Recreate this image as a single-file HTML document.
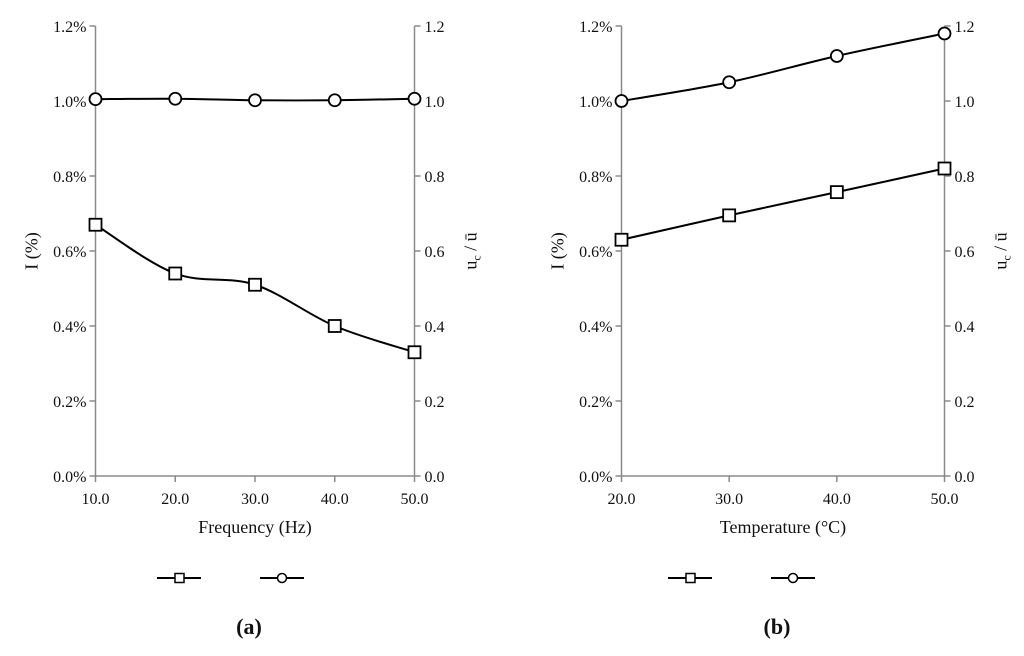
<!DOCTYPE html>
<html><head><meta charset="utf-8"><style>
body{margin:0;background:#fff;width:1024px;height:651px;overflow:hidden}
svg text{font-family:"Liberation Serif",serif;fill:#111}
</style></head><body>
<svg width="1024" height="651">
<g id="root"></g>
</svg>
<script>
const freqCats=[10,20,30,40,50];
const freqI=[0.67,0.54,0.51,0.40,0.33];
const freqU=[1.005,1.006,1.002,1.002,1.006];
const tempCats=[20,30,40,50];
const tempI=[0.63,0.695,0.757,0.82];
const tempU=[1.0,1.05,1.12,1.18];
const leftTicks=["0.0%","0.2%","0.4%","0.6%","0.8%","1.0%","1.2%"];
const rightTicks=["0.0","0.2","0.4","0.6","0.8","1.0","1.2"];
const NS="http://www.w3.org/2000/svg";
const root=document.getElementById('root');
function mk(t,a,p,txt){const e=document.createElementNS(NS,t);for(const k in a)e.setAttribute(k,a[k]);if(txt!==undefined)e.textContent=txt;(p||root).appendChild(e);return e;}
function smooth(pts){let d=`M${pts[0][0]},${pts[0][1]}`;for(let i=0;i<pts.length-1;i++){const p0=pts[i-1]||pts[i],p1=pts[i],p2=pts[i+1],p3=pts[i+2]||p2;
d+=` C${p1[0]+(p2[0]-p0[0])/6},${p1[1]+(p2[1]-p0[1])/6} ${p2[0]-(p3[0]-p1[0])/6},${p2[1]-(p3[1]-p1[1])/6} ${p2[0]},${p2[1]}`;}return d;}
function chart(id,x0,x1,cats,sI,sU,xlabel,letter,lx){
const g=mk('g',{});
const yTop=26,yBot=476;
const xs=v=>x0+(v-cats[0])/(cats[cats.length-1]-cats[0])*(x1-x0);
const yL=v=>yBot-v/1.2*(yBot-yTop);
const yR=v=>yBot-v/1.2*(yBot-yTop);
const ax={stroke:'#8a8a8a','stroke-width':1.5,fill:'none'};
let e=mk('line',{x1:x0,y1:yTop,x2:x0,y2:yBot,...ax},g);
e=mk('line',{x1:x1,y1:yTop,x2:x1,y2:yBot,...ax},g);
e=mk('line',{x1:x0,y1:yBot,x2:x1,y2:yBot,...ax},g);
leftTicks.forEach((t,i)=>{const y=yBot-i*(yBot-yTop)/6;
mk('line',{x1:x0-6,y1:y,x2:x0,y2:y,...ax},g);mk('line',{x1:x1,y1:y,x2:x1+6,y2:y,...ax},g);
e=mk('text',{x:x0-9,y:y+6,'text-anchor':'end',style:'font-size:16px'},g,t);
e=mk('text',{x:x1+10,y:y+6,style:'font-size:16px'},g,rightTicks[i]);});
cats.forEach(c=>{const x=xs(c);mk('line',{x1:x,y1:yBot,x2:x,y2:yBot+6,...ax},g);
e=mk('text',{x:x,y:yBot+28,'text-anchor':'middle',style:'font-size:16px'},g,c.toFixed(1));});
e=mk('text',{x:(x0+x1)/2,y:533,'text-anchor':'middle',style:'font-size:18px'},g,xlabel);
e=mk('text',{x:0,y:0,'text-anchor':'middle',style:'font-size:18px',transform:`translate(${x0-58},251) rotate(-90)`},g,'I (%)');
e=mk('text',{x:0,y:0,'text-anchor':'middle',style:'font-size:18px',transform:`translate(${x1+62},251) rotate(-90)`},g);
mk('tspan',{},e,'u');mk('tspan',{dy:4,style:'font-size:12px'},e,'c');mk('tspan',{dy:-4},e,' / ū');
const pI=cats.map((c,i)=>[xs(c),yL(sI[i])]);const pU=cats.map((c,i)=>[xs(c),yR(sU[i])]);
e=mk('path',{d:smooth(pI),stroke:'#000','stroke-width':2,fill:'none'},g);
e=mk('path',{d:smooth(pU),stroke:'#000','stroke-width':2,fill:'none'},g);
pI.forEach(p=>{e=mk('rect',{x:p[0]-6,y:p[1]-6,width:12,height:12,fill:'#fff',stroke:'#000','stroke-width':1.8},g);});
pU.forEach(p=>{e=mk('circle',{cx:p[0],cy:p[1],r:6,fill:'#fff',stroke:'#000','stroke-width':1.8},g);});
const ly=578;
e=mk('line',{x1:lx,y1:ly,x2:lx+44,y2:ly,stroke:'#000','stroke-width':2},g);
mk('rect',{x:lx+18,y:ly-4.5,width:9,height:9,fill:'#fff',stroke:'#000','stroke-width':1.5},g);
e=mk('line',{x1:lx+103,y1:ly,x2:lx+147,y2:ly,stroke:'#000','stroke-width':2},g);
mk('circle',{cx:lx+125,cy:ly,r:4.5,fill:'#fff',stroke:'#000','stroke-width':1.5},g);
e=mk('text',{x:(x0+x1)/2-6,y:634,'text-anchor':'middle',style:'font-size:22px;font-weight:bold'},g,'('+letter+')');
}
chart('a',95.5,414.5,freqCats,freqI,freqU,'Frequency (Hz)','a',157);
chart('b',621.5,944.5,tempCats,tempI,tempU,'Temperature (°C)','b',668);
</script>
</body></html>
